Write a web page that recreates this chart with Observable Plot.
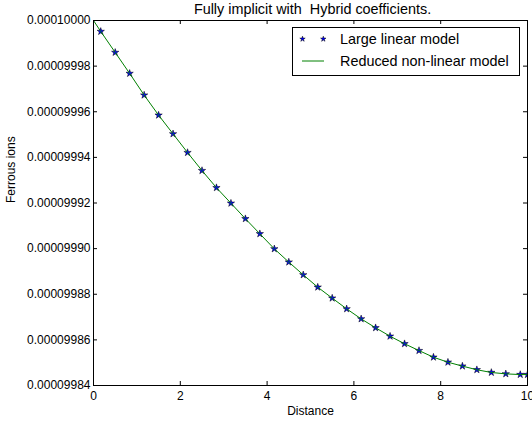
<!DOCTYPE html>
<html>
<head>
<meta charset="utf-8">
<script src="https://cdn.jsdelivr.net/npm/d3@7"></script>
<script src="https://cdn.jsdelivr.net/npm/@observablehq/plot@0.6"></script>
<style>
  html, body { margin: 0; padding: 0; background: white; }
  #chart { width: 532px; height: 422px; }
</style>
</head>
<body>
<div id="chart"></div>
<script>
// ---- data ----
const title = "Fully implicit with \u00a0Hybrid coefficients.";
const xLabel = "Distance";
const yLabel = "Ferrous ions";
const seriesNames = ["Large linear model", "Reduced non-linear model"];

const largeX = [0.167, 0.5, 0.833, 1.167, 1.5, 1.833, 2.167, 2.5, 2.833, 3.167,
                3.5, 3.833, 4.167, 4.5, 4.833, 5.167, 5.5, 5.833, 6.167, 6.5,
                6.833, 7.167, 7.5, 7.833, 8.167, 8.5, 8.833, 9.167, 9.5, 9.833, 10];
const largeY = [0.0000999952, 0.0000999860, 0.0000999768, 0.0000999673, 0.0000999585,
                0.0000999503, 0.0000999421, 0.0000999342, 0.0000999267, 0.0000999199,
                0.0000999131, 0.0000999065, 0.0000998999, 0.0000998941, 0.0000998885,
                0.0000998831, 0.0000998783, 0.0000998736, 0.0000998692, 0.0000998653,
                0.0000998616, 0.0000998583, 0.0000998553, 0.0000998524, 0.0000998502,
                0.0000998485, 0.0000998469, 0.0000998457, 0.0000998451, 0.0000998448,
                0.0000998448];

const reducedX = [0, 0.167, 0.5, 0.833, 1.167, 1.5, 1.833, 2.167, 2.5, 2.833, 3.167,
                  3.5, 3.833, 4.167, 4.5, 4.833, 5.167, 5.5, 5.833, 6.167, 6.5,
                  6.833, 7.167, 7.5, 7.833, 8.167, 8.5, 8.833, 9.167, 9.5, 9.833, 10];
const reducedY = [0.0001, 0.0000999952, 0.0000999860, 0.0000999768, 0.0000999673, 0.0000999585,
                  0.0000999503, 0.0000999421, 0.0000999342, 0.0000999267, 0.0000999199,
                  0.0000999131, 0.0000999065, 0.0000998999, 0.0000998941, 0.0000998885,
                  0.0000998831, 0.0000998783, 0.0000998736, 0.0000998692, 0.0000998653,
                  0.0000998616, 0.0000998583, 0.0000998553, 0.0000998524, 0.0000998502,
                  0.0000998485, 0.0000998469, 0.0000998457, 0.0000998451, 0.0000998448,
                  0.0000998448];

const xTicks = [0, 2, 4, 6, 8, 10];
const yTicks = [0.00009984, 0.00009986, 0.00009988, 0.00009990, 0.00009992,
                0.00009994, 0.00009996, 0.00009998, 0.00010000];

// ---- build ----
const largeData = largeX.map((x, i) => ({x, y: largeY[i]}));
const reducedData = reducedX.map((x, i) => ({x, y: reducedY[i]}));

const W = 532, H = 422, mt = 20, mb = 37, ml = 93, mr = 5;
const innerW = W - ml - mr, innerH = H - mt - mb;
const STAR_R = 2.3;
const LEGEND_STAR_R = 1.7;

const chart = Plot.plot({
  width: W, height: H,
  marginTop: mt, marginBottom: mb, marginLeft: ml, marginRight: mr,
  style: {fontFamily: "'Liberation Sans', Arial, sans-serif", fontSize: "12px", background: "white", color: "black"},
  x: {domain: [0, 10]},
  y: {domain: [0.00009984, 0.0001]},
  marks: [
    Plot.dot(largeData, {x: "x", y: "y", symbol: "star", r: STAR_R, fill: "#0000ff", stroke: "black", strokeWidth: 0.5, clip: true}),
    Plot.line(reducedData, {x: "x", y: "y", stroke: "#008000", strokeWidth: 1}),
    Plot.ruleX(xTicks, {x: d => d, insetTop: innerH - 4, stroke: "black"}),
    Plot.ruleX(xTicks, {x: d => d, insetBottom: innerH - 4, stroke: "black"}),
    Plot.ruleY(yTicks, {y: d => d, insetRight: innerW - 4, stroke: "black"}),
    Plot.ruleY(yTicks, {y: d => d, insetLeft: innerW - 4, stroke: "black"}),
    Plot.frame({stroke: "black", strokeWidth: 1}),
    Plot.axisX({ticks: xTicks, tickSize: 0, tickPadding: 6, tickFormat: d => String(d), label: null, fontSize: 12}),
    Plot.axisY({ticks: yTicks, tickSize: 0, tickPadding: 3, tickFormat: d => d.toFixed(8), label: null, fontSize: 12}),
    Plot.text([title], {frameAnchor: "top", lineAnchor: "middle", dy: -11, fontSize: 14.4, dx: 2}),
    Plot.text([xLabel], {frameAnchor: "bottom", lineAnchor: "middle", dy: 25.5, fontSize: 12}),
    Plot.text([yLabel], {frameAnchor: "left", lineAnchor: "middle", rotate: -90, dx: -82, fontSize: 12})
  ]
});

document.getElementById("chart").appendChild(chart);

// ---- legend ----
const svg = d3.select(chart);
const lg = svg.append("g").attr("class", "legend");
lg.append("rect").attr("x", 292.5).attr("y", 27.5).attr("width", 227).attr("height", 48)
  .attr("fill", "white").attr("stroke", "black").attr("stroke-width", 1);
const starPath = d3.symbol(d3.symbolStar, Math.PI * LEGEND_STAR_R * LEGEND_STAR_R)();
[302.5, 323.3].forEach(cx => {
  lg.append("path").attr("d", starPath).attr("transform", `translate(${cx},39)`)
    .attr("fill", "#0000ff").attr("stroke", "black").attr("stroke-width", 0.5);
});
lg.append("line").attr("x1", 302).attr("x2", 324).attr("y1", 61).attr("y2", 61)
  .attr("stroke", "#008000").attr("stroke-width", 1);
lg.append("text").attr("x", 340).attr("y", 44.3).attr("font-size", 14.4).attr("text-anchor", "start")
  .attr("fill", "black").text(seriesNames[0]);
lg.append("text").attr("x", 340).attr("y", 65.7).attr("font-size", 14.4).attr("text-anchor", "start")
  .attr("fill", "black").text(seriesNames[1]);
</script>
</body>
</html>
